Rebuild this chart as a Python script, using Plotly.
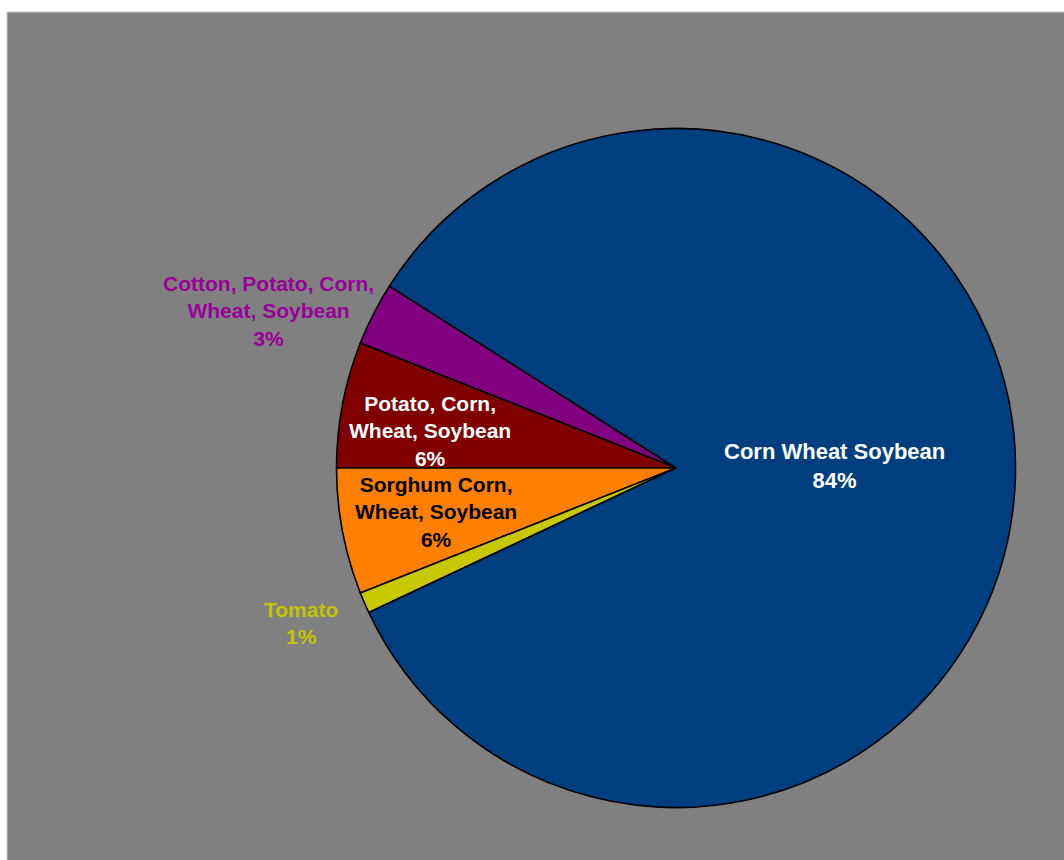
import plotly.graph_objects as go

# ---- data ----
categories = [
    "Cotton, Potato, Corn, Wheat, Soybean",
    "Potato, Corn, Wheat, Soybean",
    "Sorghum Corn, Wheat, Soybean",
    "Tomato",
    "Corn Wheat Soybean",
]
label_lines = [
    "Cotton, Potato, Corn,<br>Wheat, Soybean",
    "Potato, Corn,<br>Wheat, Soybean",
    "Sorghum Corn,<br>Wheat, Soybean",
    "Tomato",
    "Corn Wheat Soybean",
]
shares = [3, 6, 6, 1, 84]

# ---- styling ----
W, H = 1064, 860
slice_colors = ["#800080", "#800000", "#ff8000", "#c8c800", "#003f7f"]
text_colors = ["#990099", "#ffffff", "#000000", "#c4c400", "#ffffff"]
text_sizes = [21, 21, 21, 21, 22]
# label block centres in pixels (styling only)
label_pos_px = [(268, 311), (430, 431), (436, 512), (301, 623), (834, 466)]

cx, cy, r = 676, 468, 339.5

fig = go.Figure(
    go.Pie(
        labels=categories,
        values=shares,
        sort=False,
        direction="counterclockwise",
        rotation=-68.4,
        marker=dict(colors=slice_colors, line=dict(color="#000000", width=1.6)),
        textinfo="none",
        hoverinfo="label+percent",
        showlegend=False,
        domain=dict(
            x=[(cx - r) / W, (cx + r) / W],
            y=[1 - (cy + r) / H, 1 - (cy - r) / H],
        ),
    )
)

total = sum(shares)
annotations = []
for lab, v, col, sz, (px, py) in zip(label_lines, shares, text_colors, text_sizes, label_pos_px):
    pct = round(100 * v / total)
    annotations.append(
        dict(
            x=px / W,
            y=1 - py / H,
            xref="paper",
            yref="paper",
            xanchor="center",
            yanchor="middle",
            showarrow=False,
            align="center",
            text=f"<b>{lab}<br>{pct}%</b>",
            font=dict(family="Liberation Sans, Arial, sans-serif", size=sz, color=col),
        )
    )

fig.update_layout(
    width=W,
    height=H,
    margin=dict(l=0, r=0, t=0, b=0),
    paper_bgcolor="#ffffff",
    shapes=[
        dict(
            type="rect",
            xref="paper",
            yref="paper",
            x0=7 / W,
            x1=1.01,
            y0=-0.01,
            y1=1 - 12 / H,
            fillcolor="#808080",
            line=dict(color="#c8c8c8", width=1),
            layer="below",
        )
    ],
    annotations=annotations,
)

fig.write_html("out.html")
